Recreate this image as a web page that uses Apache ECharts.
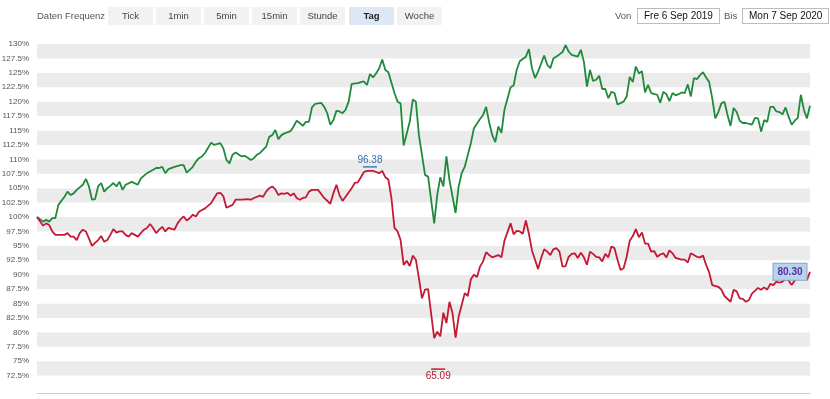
<!DOCTYPE html>
<html>
<head>
<meta charset="utf-8">
<script src="https://cdn.jsdelivr.net/npm/echarts@6/dist/echarts.min.js"></script>
<style>
  html, body { margin: 0; padding: 0; background: #fff; }
  body { width: 830px; height: 399px; position: relative; overflow: hidden; font-family: "Liberation Sans", Arial, sans-serif; }
  #chart { position: absolute; left: 0; top: 0; width: 830px; height: 399px; }
  .t { position: absolute; top: 7px; height: 18px; line-height: 18px; font-size: 9.5px; color: #555; white-space: nowrap; }
  .btn { width: 45px; text-align: center; background: #f2f2f2; color: #444; }
  .btn.on { background: #dde8f4; font-weight: bold; color: #222; }
  .box { top: 8px; height: 14px; line-height: 14px; border: 1px solid #bdbdbd; padding: 0 6px; color: #111; font-size: 10px; background: #fff; }
</style>
</head>
<body>
<div id="chart"></div>
<div class="t" style="left:37px">Daten Frequenz</div>
<div class="t btn" style="left:108px">Tick</div>
<div class="t btn" style="left:156px">1min</div>
<div class="t btn" style="left:204px">5min</div>
<div class="t btn" style="left:252px">15min</div>
<div class="t btn" style="left:300px">Stunde</div>
<div class="t btn on" style="left:349px">Tag</div>
<div class="t btn" style="left:397px">Woche</div>
<div class="t" style="left:615px">Von</div>
<div class="t box" style="left:637px">Fre 6 Sep 2019</div>
<div class="t" style="left:724px">Bis</div>
<div class="t box" style="left:742px">Mon 7 Sep 2020</div>
<script>
// Handelstage seit 6.9.2019, Werte in % vom Startkurs
const greenDays = [0,2,3,4,5,6,7,9,10,11,12,13,15,16,17,18,19,20,21,22,23,24,25,26,27,28,29,31,33,34,36,37,39,40,41,42,43,45,47,48,49,51,52,53,54,55,57,58,60,61,62,63,64,65,67,68,70,71,72,73,75,76,77,78,79,80,81,83,84,85,86,87,88,89,90,91,93,94,95,96,97,98,99,100,101,102,103,105,106,107,108,109,110,111,112,113,114,115,117,118,119,120,122,123,124,125,127,128,130,131,132,133,134,135,137,138,139,140,142,143,145,146,147,148,149,150,151,152,153,155,156,157,158,159,160,161,162,163,164,166,167,168,169,171,172,173,174,175,177,178,179,180,181,182,183,184,185,186,187,188,189,190,192,193,194,195,196,197,198,199,200,201,203,204,205,206,207,208,209,210,211,212,213,214,215,216,217,218,219,220,221,222,223,224,225,226,227,228,229,230,231,232,234,235,236,237,238,239,240,241,242,243,244,245,246,247,248,249,250,251,252,253]
const greenVals = [100.0,99.2,99.5,99.2,99.8,99.8,102.1,103.5,104.4,103.8,104.1,104.7,105.6,106.6,105.3,103.0,103.1,105.3,105.9,104.4,105.0,105.4,105.9,105.3,106.1,104.7,105.6,106.1,105.6,106.7,107.6,107.9,108.5,108.5,108.7,107.6,108.3,108.7,109.0,109.0,107.7,108.7,109.6,110.2,110.5,111.1,112.9,112.5,112.8,111.9,109.9,109.3,110.8,111.2,110.5,110.6,109.9,110.2,110.8,111.1,112.2,113.9,114.2,115.1,113.5,114.2,114.5,114.9,115.7,116.7,116.3,115.8,116.5,116.5,119.0,119.6,119.8,119.1,118.0,116.0,116.8,118.4,118.3,118.0,118.6,120.0,123.1,123.2,123.4,123.5,122.9,124.8,124.2,124.9,125.8,127.3,125.5,125.1,121.5,120.0,119.7,112.4,116.5,120.4,120.0,114.2,107.3,107.0,98.9,103.8,106.9,105.3,110.5,106.4,100.7,105.3,107.6,108.7,112.8,115.4,117.0,117.7,119.1,116.4,114.2,113.0,115.7,114.6,118.6,122.5,122.8,125.5,127.0,127.4,127.8,129.1,125.8,124.1,125.2,128.0,126.4,125.8,127.5,128.2,128.6,129.8,128.7,128.1,127.8,129.0,126.9,122.6,125.5,123.6,123.8,124.5,122.2,122.2,120.6,121.7,121.5,119.5,120.0,120.9,124.3,123.4,126.1,124.9,125.3,121.6,122.9,121.5,121.2,119.8,121.7,121.3,120.1,121.5,121.1,121.3,121.6,121.5,123.0,120.9,124.1,123.9,124.6,125.1,124.2,123.4,120.6,117.1,118.2,119.7,120.0,117.7,115.8,118.9,118.2,116.7,116.3,116.3,116.0,117.2,117.1,114.8,116.8,116.5,119.1,119.1,118.3,118.2,117.8,119.0,117.4,116.0,116.7,117.2,121.2,118.6,117.1,119.3]

const redDays = [0,2,3,4,5,6,8,9,10,11,12,13,14,15,16,17,18,19,20,21,22,23,24,25,26,27,28,29,30,31,33,34,35,36,37,38,39,40,41,42,43,45,46,47,48,49,50,51,52,53,54,55,57,58,59,60,61,62,64,65,67,69,70,71,73,74,75,76,77,78,79,80,81,82,83,84,85,86,87,88,89,90,92,93,94,96,97,98,99,100,101,103,104,105,106,107,108,110,111,112,113,114,115,116,117,118,119,120,121,122,123,124,125,126,127,128,130,131,132,133,134,135,136,137,138,140,141,142,143,144,145,146,147,148,149,151,152,153,155,156,157,158,159,160,161,162,164,165,166,167,168,169,170,171,172,173,174,175,176,177,178,179,180,181,182,183,184,185,186,187,188,189,190,191,192,193,194,195,196,197,198,199,200,201,202,203,204,205,206,207,208,209,211,212,213,214,216,217,218,219,220,221,223,224,225,227,228,229,230,231,232,233,234,236,237,238,239,240,241,242,243,244,245,246,247,248,250,251,252,253]
const redVals = [100.0,98.5,98.9,98.6,97.5,96.9,96.9,96.9,97.2,96.6,96.6,96.0,97.2,97.8,97.5,96.3,95.0,95.5,96.0,96.7,95.7,96.0,96.9,97.9,97.3,97.5,97.5,96.9,96.6,97.2,96.6,97.2,97.8,98.1,98.8,98.1,97.2,97.8,98.3,97.5,98.1,97.8,98.9,99.6,100.1,99.4,99.8,100.4,100.1,100.9,101.2,101.5,102.4,103.3,104.1,104.2,103.6,101.6,102.1,103.0,103.0,103.1,103.0,103.3,103.7,103.5,104.4,105.0,105.3,104.8,103.8,104.1,104.0,104.2,103.7,104.1,103.3,103.0,103.3,103.4,104.4,104.7,104.7,104.0,103.3,102.3,104.1,105.6,103.8,102.8,103.5,105.0,105.9,106.0,106.9,107.8,108.0,108.0,107.8,107.6,108.0,106.9,106.5,103.3,98.1,97.5,96.0,91.7,92.4,91.5,93.3,92.6,89.4,85.9,87.4,87.5,79.0,80.1,79.3,83.4,81.6,85.3,83.3,79.1,82.7,86.8,86.3,89.2,90.0,89.6,91.4,92.3,93.9,93.4,93.0,93.4,93.0,95.9,98.9,97.0,97.6,97.5,97.1,99.4,97.1,94.2,91.0,92.9,94.4,94.0,93.4,94.4,94.6,94.0,91.4,91.5,93.1,93.6,93.7,92.9,93.8,93.0,91.7,94.0,93.6,93.1,93.0,92.3,93.6,93.0,94.9,94.6,92.6,90.8,91.1,93.1,95.9,96.7,97.9,96.5,97.3,95.4,95.4,94.0,94.1,93.1,93.5,93.7,93.0,94.2,93.7,92.9,92.6,92.6,92.1,93.7,93.1,93.0,93.3,91.7,90.4,88.2,87.9,87.4,86.3,85.3,87.4,87.1,85.9,85.8,85.3,85.6,86.7,87.7,87.4,87.8,87.4,88.4,88.2,88.8,88.6,88.8,89.2,89.0,88.2,89.0,90.8,90.1,89.1,90.5]

// Kursmarken (Hoch, Tief, letzter Kurs)
const highLabel = '96.38'
const lowLabel = '65.09'
const lastLabel = '80.30'

const greenData = greenDays.map((d, i) => [d, greenVals[i]])
const redData = redDays.map((d, i) => [d, redVals[i]])

const chart = echarts.init(document.getElementById('chart'))
chart.setOption({
  animation: false,
  grid: { left: 37, right: 20, top: 44, bottom: 9, containLabel: false, outerBoundsMode: 'none' },
  xAxis: {
    type: 'value', min: 0, max: 253, offset: 3,
    axisLine: { show: true, lineStyle: { color: '#cccccc' } },
    axisTick: { show: false }, axisLabel: { show: false }, splitLine: { show: false }
  },
  yAxis: {
    type: 'value', min: 70, max: 130, interval: 2.5,
    axisLine: { show: false }, axisTick: { show: false }, splitLine: { show: false },
    splitArea: { show: true, areaStyle: { color: ['#ffffff', '#ebebeb'] } },
    axisLabel: {
      margin: 8, fontSize: 8, color: '#555', fontFamily: 'Liberation Sans, Arial, sans-serif',
      formatter: v => v === 70 ? '' : v + '%'
    }
  },
  series: [{
    type: 'line', data: greenData, showSymbol: false, z: 2,
    lineStyle: { color: '#1f8a3b', width: 1.8 }, itemStyle: { color: '#1f8a3b' }
  }, {
    type: 'line', data: redData, showSymbol: false, z: 3,
    lineStyle: { color: '#c41934', width: 1.8 }, itemStyle: { color: '#c41934' },
    markPoint: {
      data: [{
        type: 'max', symbol: 'rect', symbolSize: [14, 1.5], symbolOffset: [3, -4],
        itemStyle: { color: '#3f7fc0' },
        label: { position: 'top', distance: 1, formatter: highLabel, color: '#2f6db3', fontSize: 10 }
      }, {
        type: 'min', symbol: 'rect', symbolSize: [14, 1.5], symbolOffset: [4, 31],
        itemStyle: { color: '#c41934' },
        label: { position: 'bottom', distance: 1, formatter: lowLabel, color: '#b0182f', fontSize: 10 }
      }, {
        coord: redData[redData.length - 1], symbol: 'rect', symbolSize: 1,
        itemStyle: { color: 'transparent' },
        label: {
          position: 'left', distance: 3, formatter: lastLabel, color: '#5b2ea6', fontWeight: 'bold', fontSize: 10,
          backgroundColor: '#b8d3ea', borderColor: '#8aa7c0', borderWidth: 1, padding: [3, 4, 3, 4]
        }
      }]
    }
  }]
})
</script>
</body>
</html>
